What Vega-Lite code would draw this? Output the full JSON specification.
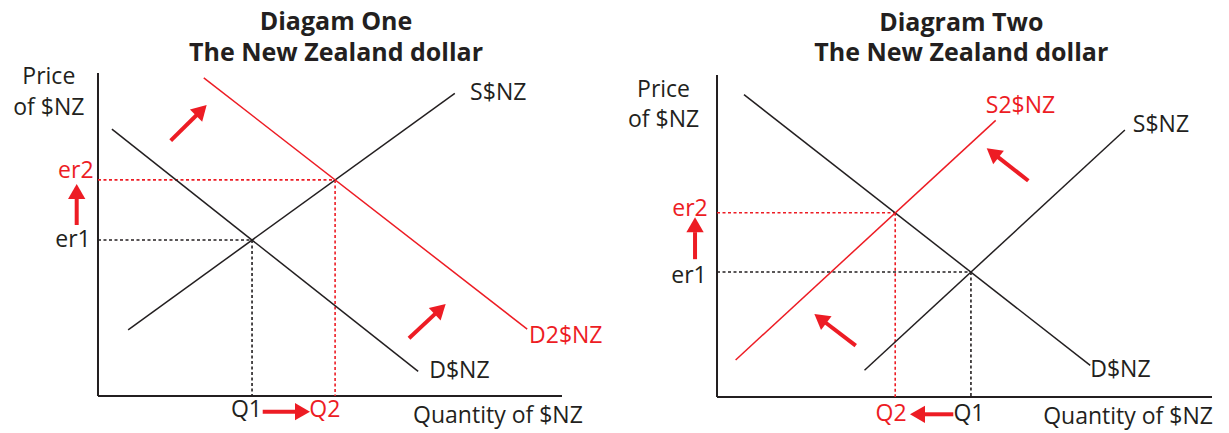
{
  "$schema": "https://vega.github.io/schema/vega-lite/v6.json",
  "padding": 0,
  "spacing": 0,
  "background": "white",
  "config": {"view": {"stroke": null}, "concat": {"spacing": 0}, "text": {"font": "Open Sans"}},
  "datasets": {
    "axes": [
      {"panel": 1, "q": 0, "p": 0, "q2": 0, "p2": 100},
      {"panel": 1, "q": 0, "p": 0, "q2": 100, "p2": 0},
      {"panel": 2, "q": 0, "p": 0, "q2": 0, "p2": 100},
      {"panel": 2, "q": 0, "p": 0, "q2": 100, "p2": 0}
    ],
    "curves": [
      {"panel": 1, "curve": "D$NZ", "tone": "old", "q": 3, "p": 82.6, "q2": 69, "p2": 7.6},
      {"panel": 1, "curve": "S$NZ", "tone": "old", "q": 6.5, "p": 20.5, "q2": 76.9, "p2": 93.7},
      {"panel": 1, "curve": "D2$NZ", "tone": "new", "q": 22.8, "p": 98.5, "q2": 92.5, "p2": 20.7},
      {"panel": 2, "curve": "D$NZ", "tone": "old", "q": 5.45, "p": 93.9, "q2": 75.4, "p2": 9.8},
      {"panel": 2, "curve": "S$NZ", "tone": "old", "q": 29.8, "p": 8.3, "q2": 82.4, "p2": 82.9},
      {"panel": 2, "curve": "S2$NZ", "tone": "new", "q": 3.76, "p": 11.5, "q2": 56.3, "p2": 85.9}
    ],
    "guides": [
      {"panel": 1, "tone": "old", "q": 0, "p": 48.3, "q2": 33.2, "p2": 48.3},
      {"panel": 1, "tone": "old", "q": 33.2, "p": 48.3, "q2": 33.2, "p2": 0},
      {"panel": 1, "tone": "new", "q": 0, "p": 66.9, "q2": 51.1, "p2": 66.9},
      {"panel": 1, "tone": "new", "q": 51.1, "p": 66.9, "q2": 51.1, "p2": 0},
      {"panel": 2, "tone": "old", "q": 0, "p": 38.8, "q2": 51.3, "p2": 38.8},
      {"panel": 2, "tone": "old", "q": 51.3, "p": 38.8, "q2": 51.3, "p2": 0},
      {"panel": 2, "tone": "new", "q": 0, "p": 57.2, "q2": 36, "p2": 57.2},
      {"panel": 2, "tone": "new", "q": 36, "p": 57.2, "q2": 36, "p2": 0}
    ],
    "shafts": [
      {"panel": 1, "q": -4.59, "p": 52.94, "q2": -4.59, "p2": 61.6},
      {"panel": 1, "q": 35.5, "p": -4.86, "q2": 43.1, "p2": -4.86},
      {"panel": 1, "q": 15.67, "p": 79.04, "q2": 21.44, "p2": 87.24},
      {"panel": 1, "q": 67.03, "p": 17.86, "q2": 72.89, "p2": 25.73},
      {"panel": 2, "q": -4.44, "p": 42.8, "q2": -4.44, "p2": 51.2},
      {"panel": 2, "q": 47.74, "p": -5.37, "q2": 41.8, "p2": -5.37},
      {"panel": 2, "q": 62.89, "p": 67.17, "q2": 56.71, "p2": 74.57},
      {"panel": 2, "q": 28.02, "p": 15.93, "q2": 21.9, "p2": 23.14}
    ],
    "heads": [
      {"panel": 1, "q": -4.59, "p": 63.3, "dir": 0},
      {"panel": 1, "q": 44.07, "p": -4.86, "dir": 90},
      {"panel": 1, "q": 22.28, "p": 88.45, "dir": 45},
      {"panel": 1, "q": 73.75, "p": 26.9, "dir": 47},
      {"panel": 2, "q": -4.44, "p": 53.48, "dir": 0},
      {"panel": 2, "q": 40.5, "p": -5.37, "dir": 270},
      {"panel": 2, "q": 55.68, "p": 75.8, "dir": 308},
      {"panel": 2, "q": 20.87, "p": 24.35, "dir": 307.4}
    ],
    "labels": [
      {"panel": 1, "kind": "title", "text": "Diagam One", "q": 51.3, "p": 115.9, "tone": "old"},
      {"panel": 1, "kind": "title", "text": "The New Zealand dollar", "q": 51.3, "p": 106.3, "tone": "old"},
      {"panel": 1, "kind": "center", "text": "Price", "q": -10.6, "p": 98.76, "tone": "old"},
      {"panel": 1, "kind": "center", "text": "of $NZ", "q": -10.6, "p": 89.16, "tone": "old"},
      {"panel": 1, "kind": "center", "text": "Quantity of $NZ", "q": 86.2, "p": -6.2, "tone": "old"},
      {"panel": 1, "kind": "curve", "text": "S$NZ", "q": 80.2, "p": 93.7, "tone": "old"},
      {"panel": 1, "kind": "curve", "text": "D2$NZ", "q": 92.9, "p": 18.58, "tone": "new"},
      {"panel": 1, "kind": "curve", "text": "D$NZ", "q": 71.4, "p": 7.74, "tone": "old"},
      {"panel": 1, "kind": "center", "text": "er2", "q": -4.78, "p": 69.75, "tone": "new"},
      {"panel": 1, "kind": "center", "text": "er1", "q": -5.39, "p": 48.3, "tone": "old"},
      {"panel": 1, "kind": "center", "text": "Q1", "q": 32.0, "p": -4.33, "tone": "old"},
      {"panel": 1, "kind": "center", "text": "Q2", "q": 48.9, "p": -4.33, "tone": "new"},
      {"panel": 2, "kind": "title", "text": "Diagram Two", "q": 49.35, "p": 116.2, "tone": "old"},
      {"panel": 2, "kind": "title", "text": "The New Zealand dollar", "q": 49.35, "p": 106.7, "tone": "old"},
      {"panel": 2, "kind": "center", "text": "Price", "q": -10.8, "p": 95.3, "tone": "old"},
      {"panel": 2, "kind": "center", "text": "of $NZ", "q": -10.8, "p": 86.0, "tone": "old"},
      {"panel": 2, "kind": "center", "text": "Quantity of $NZ", "q": 83.03, "p": -6.12, "tone": "old"},
      {"panel": 2, "kind": "curve", "text": "S2$NZ", "q": 54.3, "p": 90.4, "tone": "new"},
      {"panel": 2, "kind": "curve", "text": "S$NZ", "q": 84.0, "p": 84.5, "tone": "old"},
      {"panel": 2, "kind": "curve", "text": "D$NZ", "q": 75.4, "p": 8.4, "tone": "old"},
      {"panel": 2, "kind": "center", "text": "er2", "q": -5.45, "p": 58.3, "tone": "new"},
      {"panel": 2, "kind": "center", "text": "er1", "q": -5.66, "p": 37.6, "tone": "old"},
      {"panel": 2, "kind": "center", "text": "Q2", "q": 35.15, "p": -5.28, "tone": "new"},
      {"panel": 2, "kind": "center", "text": "Q1", "q": 50.9, "p": -5.28, "tone": "old"}
    ]
  },
  "hconcat": [
    {
      "width": 614,
      "height": 433,
      "encoding": {
        "x": {"field": "q", "type": "quantitative", "axis": null, "scale": {"domain": [-21.12, 111.21], "nice": false, "zero": false}},
        "y": {"field": "p", "type": "quantitative", "axis": null, "scale": {"domain": [-11.46, 122.6], "nice": false, "zero": false}}
      },
      "layer": [
        {"data": {"name": "axes"}, "transform": [{"filter": "datum.panel == 1"}], "mark": {"type": "rule", "color": "#231f20", "strokeWidth": 2},
         "encoding": {"x2": {"field": "q2"}, "y2": {"field": "p2"}}},
        {"data": {"name": "guides"}, "transform": [{"filter": "datum.panel == 1"}], "mark": {"type": "rule", "strokeWidth": 1.6, "strokeDash": [3, 2.5]},
         "encoding": {"x2": {"field": "q2"}, "y2": {"field": "p2"}, "color": {"field": "tone", "type": "nominal", "legend": null, "scale": {"domain": ["old", "new"], "range": ["#231f20", "#ed1c24"]}}}},
        {"data": {"name": "curves"}, "transform": [{"filter": "datum.panel == 1"}], "mark": {"type": "rule", "strokeWidth": 1.5},
         "encoding": {"x2": {"field": "q2"}, "y2": {"field": "p2"}, "color": {"field": "tone", "type": "nominal", "legend": null, "scale": {"domain": ["old", "new"], "range": ["#231f20", "#ed1c24"]}}}},
        {"data": {"name": "shafts"}, "transform": [{"filter": "datum.panel == 1"}], "mark": {"type": "rule", "color": "#ed1c24", "strokeWidth": 4, "strokeCap": "butt"},
         "encoding": {"x2": {"field": "q2"}, "y2": {"field": "p2"}}},
        {"data": {"name": "heads"}, "transform": [{"filter": "datum.panel == 1"}], "mark": {"type": "point", "shape": "triangle-up", "filled": true, "size": 300, "opacity": 1, "color": "#ed1c24", "strokeWidth": 0},
         "encoding": {"angle": {"field": "dir", "type": "quantitative", "scale": null}}},
        {"data": {"name": "labels"}, "transform": [{"filter": "datum.panel == 1 && datum.kind == 'title'"}], "mark": {"type": "text", "fontSize": 25, "fontWeight": "bold", "align": "center", "baseline": "middle"},
         "encoding": {"text": {"field": "text"}, "color": {"field": "tone", "type": "nominal", "legend": null, "scale": {"domain": ["old", "new"], "range": ["#231f20", "#ed1c24"]}}}},
        {"data": {"name": "labels"}, "transform": [{"filter": "datum.panel == 1 && datum.kind == 'center'"}], "mark": {"type": "text", "fontSize": 23, "align": "center", "baseline": "middle"},
         "encoding": {"text": {"field": "text"}, "color": {"field": "tone", "type": "nominal", "legend": null, "scale": {"domain": ["old", "new"], "range": ["#231f20", "#ed1c24"]}}}},
        {"data": {"name": "labels"}, "transform": [{"filter": "datum.panel == 1 && datum.kind == 'curve'"}], "mark": {"type": "text", "fontSize": 23, "align": "left", "baseline": "middle"},
         "encoding": {"text": {"field": "text"}, "color": {"field": "tone", "type": "nominal", "legend": null, "scale": {"domain": ["old", "new"], "range": ["#231f20", "#ed1c24"]}}}}
      ]
    },
    {
      "width": 614,
      "height": 433,
      "encoding": {
        "x": {"field": "q", "type": "quantitative", "axis": null, "scale": {"domain": [-20.81, 103.23], "nice": false, "zero": false}},
        "y": {"field": "p", "type": "quantitative", "axis": null, "scale": {"domain": [-11.18, 123.29], "nice": false, "zero": false}}
      },
      "layer": [
        {"data": {"name": "axes"}, "transform": [{"filter": "datum.panel == 2"}], "mark": {"type": "rule", "color": "#231f20", "strokeWidth": 2},
         "encoding": {"x2": {"field": "q2"}, "y2": {"field": "p2"}}},
        {"data": {"name": "guides"}, "transform": [{"filter": "datum.panel == 2"}], "mark": {"type": "rule", "strokeWidth": 1.6, "strokeDash": [3, 2.5]},
         "encoding": {"x2": {"field": "q2"}, "y2": {"field": "p2"}, "color": {"field": "tone", "type": "nominal", "legend": null, "scale": {"domain": ["old", "new"], "range": ["#231f20", "#ed1c24"]}}}},
        {"data": {"name": "curves"}, "transform": [{"filter": "datum.panel == 2"}], "mark": {"type": "rule", "strokeWidth": 1.5},
         "encoding": {"x2": {"field": "q2"}, "y2": {"field": "p2"}, "color": {"field": "tone", "type": "nominal", "legend": null, "scale": {"domain": ["old", "new"], "range": ["#231f20", "#ed1c24"]}}}},
        {"data": {"name": "shafts"}, "transform": [{"filter": "datum.panel == 2"}], "mark": {"type": "rule", "color": "#ed1c24", "strokeWidth": 4, "strokeCap": "butt"},
         "encoding": {"x2": {"field": "q2"}, "y2": {"field": "p2"}}},
        {"data": {"name": "heads"}, "transform": [{"filter": "datum.panel == 2"}], "mark": {"type": "point", "shape": "triangle-up", "filled": true, "size": 300, "opacity": 1, "color": "#ed1c24", "strokeWidth": 0},
         "encoding": {"angle": {"field": "dir", "type": "quantitative", "scale": null}}},
        {"data": {"name": "labels"}, "transform": [{"filter": "datum.panel == 2 && datum.kind == 'title'"}], "mark": {"type": "text", "fontSize": 25, "fontWeight": "bold", "align": "center", "baseline": "middle"},
         "encoding": {"text": {"field": "text"}, "color": {"field": "tone", "type": "nominal", "legend": null, "scale": {"domain": ["old", "new"], "range": ["#231f20", "#ed1c24"]}}}},
        {"data": {"name": "labels"}, "transform": [{"filter": "datum.panel == 2 && datum.kind == 'center'"}], "mark": {"type": "text", "fontSize": 23, "align": "center", "baseline": "middle"},
         "encoding": {"text": {"field": "text"}, "color": {"field": "tone", "type": "nominal", "legend": null, "scale": {"domain": ["old", "new"], "range": ["#231f20", "#ed1c24"]}}}},
        {"data": {"name": "labels"}, "transform": [{"filter": "datum.panel == 2 && datum.kind == 'curve'"}], "mark": {"type": "text", "fontSize": 23, "align": "left", "baseline": "middle"},
         "encoding": {"text": {"field": "text"}, "color": {"field": "tone", "type": "nominal", "legend": null, "scale": {"domain": ["old", "new"], "range": ["#231f20", "#ed1c24"]}}}}
      ]
    }
  ]
}
